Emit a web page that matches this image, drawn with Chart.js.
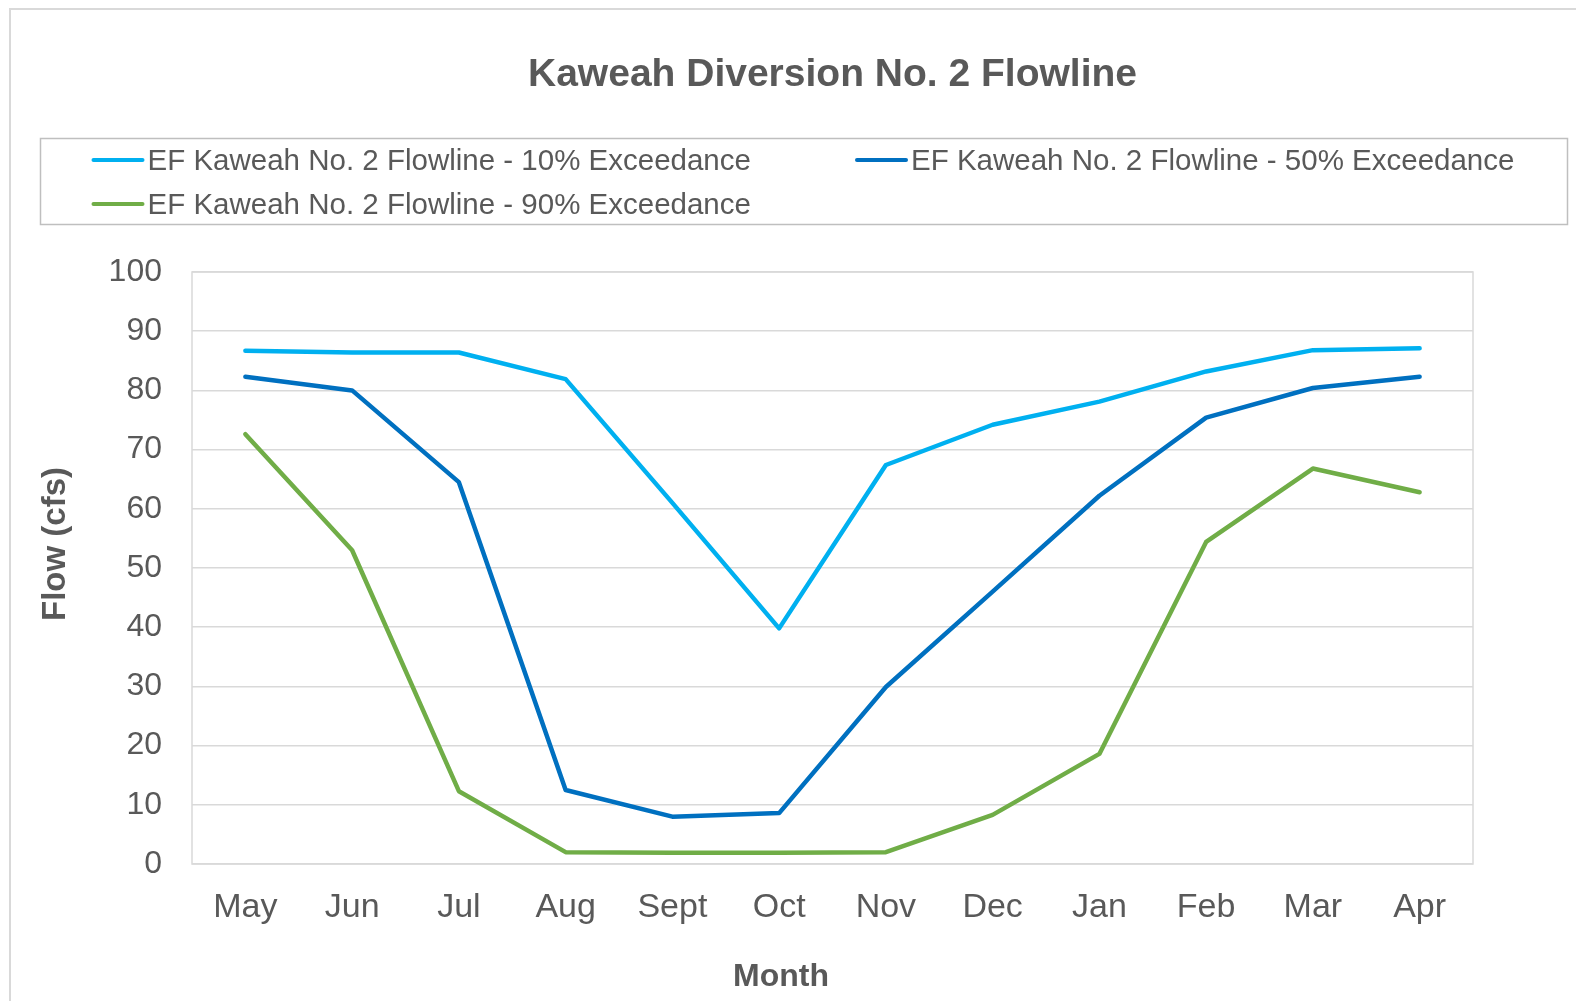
<!DOCTYPE html>
<html>
<head>
<meta charset="utf-8">
<script src="https://cdn.jsdelivr.net/npm/chart.js@4.4.1/dist/chart.umd.min.js"></script>
<style>
  body { margin: 0; background: #fff; }
  #wrap { position: relative; width: 1576px; height: 1001px; overflow: hidden; }
  #outer { position: absolute; left: 9px; top: 8px; width: 1700px; height: 1100px; border: 2px solid #d9d9d9; }
  #c { position: absolute; left: 0; top: 0; }
</style>
</head>
<body>
<div id="wrap">
  <div id="outer"></div>
  <canvas id="c" width="1576" height="1001"></canvas>
</div>
<script>
// months on the x axis
const months = ["May", "Jun", "Jul", "Aug", "Sept", "Oct", "Nov", "Dec", "Jan", "Feb", "Mar", "Apr"];

// flow in cfs
const flow10 = [86.7, 86.4, 86.4, 81.9, 61.0, 39.8, 67.4, 74.2, 78.1, 83.2, 86.8, 87.1];
const flow50 = [82.3, 80.0, 64.5, 12.5, 8.0, 8.6, 29.9, 46.0, 62.2, 75.4, 80.4, 82.3];
const flow90 = [72.6, 53.0, 12.3, 2.0, 1.9, 1.9, 2.0, 8.3, 18.6, 54.4, 66.8, 62.8];

const seriesNames = [
  "EF Kaweah No. 2 Flowline - 10% Exceedance",
  "EF Kaweah No. 2 Flowline - 50% Exceedance",
  "EF Kaweah No. 2 Flowline - 90% Exceedance"
];

const yTicks = [0, 10, 20, 30, 40, 50, 60, 70, 80, 90, 100];

const FONT = "'Liberation Sans', Arial, sans-serif";
const TXT = "#595959";

// plot frame behind the lines
const frame = {
  id: "frame",
  beforeDatasetsDraw(chart) {
    const a = chart.chartArea;
    const ctx = chart.ctx;
    ctx.save();
    ctx.strokeStyle = "#d9d9d9";
    ctx.lineWidth = 1.5;
    ctx.strokeRect(a.left, a.top, a.right - a.left, a.bottom - a.top);
    ctx.restore();
  }
};

// legend box in the excel layout + axis titles
const extras = {
  id: "extras",
  afterDraw(chart) {
    const ctx = chart.ctx;
    ctx.save();
    ctx.strokeStyle = "#bfbfbf";
    ctx.lineWidth = 1.5;
    ctx.strokeRect(40.5, 138.5, 1527, 86);

    const spots = [[93.5, 160], [857, 160], [93.5, 204]];
    ctx.font = "29.5px " + FONT;
    ctx.textBaseline = "middle";
    ctx.textAlign = "left";
    chart.data.datasets.forEach((ds, i) => {
      const [x, y] = spots[i];
      ctx.strokeStyle = ds.borderColor;
      ctx.lineWidth = 4;
      ctx.lineCap = "round";
      ctx.beginPath();
      ctx.moveTo(x, y);
      ctx.lineTo(x + 49, y);
      ctx.stroke();
      ctx.fillStyle = TXT;
      ctx.fillText(ds.label, x + 54, y + 2);
    });

    // axis titles
    ctx.fillStyle = TXT;
    ctx.font = "bold 32px " + FONT;
    ctx.textAlign = "center";
    ctx.fillText("Month", 781, 977);
    ctx.translate(56, 544);
    ctx.rotate(-Math.PI / 2);
    ctx.font = "bold 33px " + FONT;
    ctx.fillText("Flow (cfs)", 0, 0);
    ctx.restore();
  }
};

const colors = ["#00B0F0", "#0070C0", "#70AD47"];
const values = [flow10, flow50, flow90];

new Chart(document.getElementById("c"), {
  type: "line",
  data: {
    labels: months,
    datasets: values.map((v, i) => ({
      label: seriesNames[i],
      data: v,
      borderColor: colors[i],
      backgroundColor: colors[i],
      borderWidth: 4.5,
      pointRadius: 0,
      tension: 0,
      borderCapStyle: "round",
      borderJoinStyle: "round"
    }))
  },
  options: {
    responsive: false,
    animation: false,
    devicePixelRatio: 1,
    layout: { padding: { left: 0, right: 103, top: 0, bottom: 0 } },
    plugins: {
      legend: { display: false },
      tooltip: { enabled: false },
      title: {
        display: true,
        fullSize: false,
        text: "Kaweah Diversion No. 2 Flowline",
        color: TXT,
        font: { family: FONT, size: 39, weight: "bold" },
        padding: { top: 52, bottom: 173.2 }
      }
    },
    scales: {
      x: {
        offset: true,
        grid: { display: false, drawTicks: false, offset: true },
        border: { display: false },
        ticks: { color: TXT, font: { family: FONT, size: 34 }, padding: 23, maxRotation: 0, autoSkip: false },
        afterFit(scale) { scale.height = 137; }
      },
      y: {
        min: 0,
        max: 100,
        grid: { color: "#d9d9d9", lineWidth: 1.5, drawTicks: false },
        border: { display: false },
        afterBuildTicks(scale) { scale.ticks = yTicks.map(v => ({ value: v })); },
        ticks: { color: TXT, font: { family: FONT, size: 32 }, padding: 30 },
        afterFit(scale) { scale.width = 192; }
      }
    }
  },
  plugins: [frame, extras]
});
</script>
</body>
</html>
